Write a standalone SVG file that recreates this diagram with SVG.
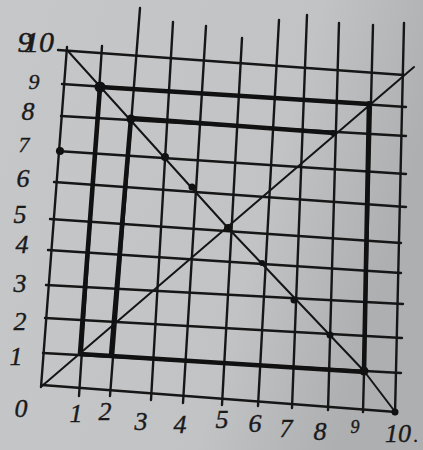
<svg xmlns="http://www.w3.org/2000/svg" width="423" height="450" viewBox="0 0 423 450">
<defs>
<linearGradient id="bg" x1="0" y1="0" x2="1" y2="0.3">
<stop offset="0" stop-color="#c6c7c9"/>
<stop offset="0.7" stop-color="#c2c3c5"/>
<stop offset="1" stop-color="#aeafb1"/>
</linearGradient>
</defs>
<style>
.g{stroke:#161616;stroke-width:2.4;fill:none;stroke-linecap:round}
.t{stroke:#111;stroke-width:4.6;fill:none;stroke-linecap:round;stroke-linejoin:round}
.d{stroke:#151515;stroke-width:2;fill:none;stroke-linecap:round;stroke-linejoin:round}
.p{fill:#111}
.l{font-family:"Liberation Serif","DejaVu Serif",serif;font-style:italic;font-size:26px;fill:#1a1a1a;stroke:#1a1a1a;stroke-width:0.4;text-anchor:middle}
</style>
<rect width="423" height="450" fill="url(#bg)"/>
<g id="grid">
<path class="g" d="M58,50 L404,75 M62,84 L406,107 M61,116 L406,136 M57,151 L406,174 M54,182 L406,207 M50,219 L401,243 M48,250 L401,273 M46,285 L403,304 M45,318 L402,338 M43,353 L401,373 M42,385 L396,412"/>
<path class="g" d="M67,47 L41,387 M102,46 L79,396 M140,8 L110,396 M173,22 L151,400 M206,26 L183,403 M242,38 L222,405 M279,20 L258,406 M307,15 L292,408 M339,23 L328,410 M373,25 L363,412 M404,23 L395,414"/>
</g>
<g id="connectors">
<path class="t" d="M100,87 L369,104 M131,118 L334,133 M100,87 L80,354 M131,118 L111,356 M80,354 L365,372 M369,104 L364,372"/>
<path class="d" d="M67,50 L228,228 L364,371 L396,413"/>
<path class="d" d="M42,386 L414,67"/>
</g>
<g id="dots">
<circle class="p" cx="100" cy="87" r="5.5"/>
<circle class="p" cx="131" cy="119" r="4.5"/>
<circle class="p" cx="165" cy="157" r="4"/>
<circle class="p" cx="192" cy="187" r="3.5"/>
<circle class="p" cx="228" cy="228" r="4"/>
<circle class="p" cx="262" cy="263" r="3"/>
<circle class="p" cx="294" cy="300" r="3.5"/>
<circle class="p" cx="330" cy="335" r="3.5"/>
<circle class="p" cx="364" cy="371" r="4.5"/>
<circle class="p" cx="395" cy="412" r="3.5"/>
<circle class="p" cx="60" cy="151" r="4"/>
<circle class="p" cx="369" cy="104" r="3"/>
<circle class="p" cx="333" cy="133" r="3"/>
</g>
<g id="labels">
<text class="l" x="39" y="52" style="font-size:30px">10</text>
<text class="l" x="25" y="52" style="font-size:30px">9</text>
<text class="l" x="34" y="89" style="font-size:22px">9</text>
<text class="l" x="28" y="120">8</text>
<text class="l" x="24" y="152" style="font-size:22px">7</text>
<text class="l" x="23" y="187">6</text>
<text class="l" x="20" y="223">5</text>
<text class="l" x="22" y="253">4</text>
<text class="l" x="20" y="292">3</text>
<text class="l" x="20" y="330">2</text>
<text class="l" x="16" y="365">1</text>
<text class="l" x="21" y="417">0</text>
<text class="l" x="76" y="422">1</text>
<text class="l" x="105" y="420">2</text>
<text class="l" x="141" y="430">3</text>
<text class="l" x="180" y="433">4</text>
<text class="l" x="222" y="428">5</text>
<text class="l" x="255" y="432">6</text>
<text class="l" x="286" y="437">7</text>
<text class="l" x="320" y="440">8</text>
<text class="l" x="355" y="433" style="font-size:18px">9</text>
<text class="l" x="398" y="442" style="font-size:26px">10</text>
<text class="l" x="416" y="442" style="font-size:18px">.</text>
</g>
</svg>
